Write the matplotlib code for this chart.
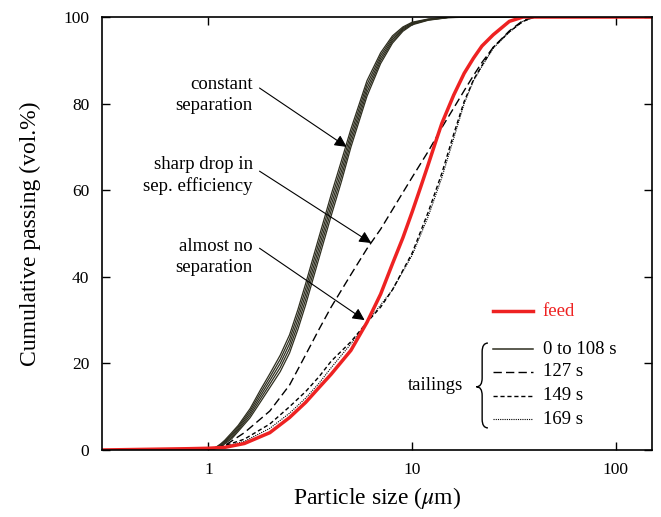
import matplotlib
matplotlib.use("Agg")
import matplotlib.pyplot as plt
from matplotlib.path import Path
from matplotlib.patches import PathPatch

plt.rcParams['font.family'] = ['Liberation Serif', 'DejaVu Serif']
plt.rcParams['mathtext.fontset'] = 'stix'

# Particle sizes (um) for the tailings band, 0 to 108 s
band_x = [0.3, 1.0, 1.05, 1.1, 1.15, 1.2, 1.3, 1.4, 1.6, 1.8, 2.0, 2.25, 2.5,
          2.75, 3.0, 3.5, 4.0, 4.5, 5.0, 6.0, 7.0, 8.0, 9.0, 10, 12, 15, 20, 150]
band_curves = [
    [0, 0.08, 0.3, 0.8, 1.45, 2.22, 4.0, 5.7, 9.55, 13.9, 17.6, 21.9, 26.6,
     32.5, 38.45, 49.45, 58.95, 66.9, 74.1, 85.3, 91.75, 95.65, 97.7, 98.8,
     99.54, 99.95, 100, 100],
    [0, 0.065, 0.25, 0.7, 1.28, 2.01, 3.65, 5.35, 9.03, 13.2, 16.8, 20.95, 25.55,
     31.35, 37.23, 48.23, 57.73, 65.7, 73.05, 84.4, 91.13, 95.23, 97.45, 98.65,
     99.47, 99.93, 100, 100],
    [0, 0.05, 0.2, 0.6, 1.1, 1.8, 3.3, 5.0, 8.5, 12.5, 16, 20, 24.5,
     30.2, 36, 47, 56.5, 64.5, 72, 83.5, 90.5, 94.8, 97.2, 98.5,
     99.4, 99.9, 100, 100],
    [0, 0.035, 0.15, 0.5, 0.93, 1.59, 2.95, 4.65, 7.98, 11.8, 15.2, 19.05, 23.45,
     29.05, 34.78, 45.78, 55.28, 63.3, 70.95, 82.6, 89.88, 94.38, 96.95, 98.35,
     99.33, 99.88, 100, 100],
    [0, 0.02, 0.1, 0.4, 0.75, 1.38, 2.6, 4.3, 7.45, 11.1, 14.4, 18.1, 22.4,
     27.9, 33.55, 44.55, 54.05, 62.1, 69.9, 81.7, 89.25, 93.95, 96.7, 98.2,
     99.26, 99.85, 100, 100],
]

# Feed
feed_x = [0.3, 0.8, 1.0, 1.2, 1.5, 2.0, 2.5, 3.0, 3.5, 4.0, 5.0, 6.0, 7.0, 8.0,
          9.0, 10, 11, 12, 13, 14, 16, 18, 20, 22, 25, 30, 35, 150]
feed_y = [0, 0.3, 0.4, 0.6, 1.5, 4, 7.5, 11, 14.5, 17.5, 23, 29.5, 36, 43,
          49, 55, 60.7, 66, 71, 75.5, 82, 87, 90.5, 93.3, 95.9, 99, 100, 100]

# Tailings at 127 s, 149 s and 169 s
t_x = [0.3, 1.0, 1.2, 1.5, 2.0, 2.5, 3.0, 3.5, 4.0, 5.0, 6.0, 7.0, 8.0, 10,
       12, 14, 16, 18, 20, 22, 25, 30, 35, 40, 150]
t127_y = [0, 0.1, 1.0, 4.0, 9, 15, 22, 28, 33, 40.5, 46.5, 51, 55.5, 63,
          69, 74.5, 79, 83, 86.5, 89.5, 93, 96.8, 99.2, 100, 100]
t149_y = [0, 0.1, 1.0, 2.5, 6, 10, 13.5, 17, 20.5, 25, 29.5, 33, 37, 45.5,
          55, 64, 73, 80.5, 85.5, 88.8, 93, 96.6, 99, 100, 100]
t169_y = [0, 0.1, 0.8, 2.0, 5, 8.5, 12, 15.5, 19, 24.5, 29.5, 33.5, 37, 45,
          54, 63, 72, 80, 85.3, 88.6, 92.8, 96.5, 99, 100, 100]

yticks = [0, 20, 40, 60, 80, 100]
xticks = [1, 10, 100]
xtick_labels = ['1', '10', '100']

fig = plt.figure(figsize=(6.61, 5.17), dpi=100)
ax = fig.add_axes([0.1543, 0.1296, 0.8317, 0.8375])

band_color = '#2e2e1f'
for cy in band_curves:
    ax.plot(band_x, cy, color=band_color, lw=0.9)
ax.plot(t_x, t127_y, color='black', lw=1.0, dashes=(6, 3))
ax.plot(t_x, t149_y, color='black', lw=1.0, dashes=(3, 2))
ax.plot(t_x, t169_y, color='black', lw=0.8, dashes=(1, 1))
ax.plot(feed_x, feed_y, color='#ee2222', lw=2.5)

ax.set_xscale('log')
ax.set_xlim(0.3, 150)
ax.set_ylim(0, 100)
ax.set_xticks(xticks)
ax.set_xticklabels(xtick_labels)
ax.xaxis.set_minor_locator(matplotlib.ticker.NullLocator())
ax.set_yticks(yticks)
ax.tick_params(direction='in', top=True, right=True, length=6, width=1,
               labelsize=12.5, pad=9)
for s in ax.spines.values():
    s.set_linewidth(1.2)

ax.set_xlabel(r'Particle size ($\mu$m)', fontsize=17, labelpad=5)
ax.set_ylabel('Cumulative passing (vol.%)', fontsize=17, labelpad=16)

# Annotations
notes = [
    ('constant\nseparation', (1.65, 82), (1.78, 83.6), (4.77, 70)),
    ('sharp drop in\nsep. efficiency', (1.65, 63.5), (1.78, 64.4), (6.3, 47.8)),
    ('almost no\nseparation', (1.65, 44.5), (1.78, 46.6), (5.84, 30)),
]
for txt, tpos, start, tip in notes:
    ax.text(tpos[0], tpos[1], txt, ha='right', va='center', fontsize=13.5,
            linespacing=1.3)
    ax.annotate('', xy=tip, xytext=start,
                arrowprops=dict(arrowstyle='-|>', lw=0.8, color='black',
                                mutation_scale=18, shrinkA=0, shrinkB=0))

# Legend drawn by hand
lx0, lx1, ltx = 0.711, 0.784, 0.802
ax.plot([lx0, lx1], [0.321, 0.321], transform=ax.transAxes, color='#ee2222', lw=2.5)
ax.text(ltx, 0.321, 'feed', transform=ax.transAxes, color='#ee2222',
        fontsize=13.5, va='center')
entries = [('0 to 108 s', 0.233, dict(color=band_color, lw=1.1)),
           ('127 s', 0.181, dict(color='black', lw=1.0, dashes=(6, 3))),
           ('149 s', 0.125, dict(color='black', lw=1.0, dashes=(3, 2))),
           ('169 s', 0.071, dict(color='black', lw=0.8, dashes=(1, 1)))]
for lab, yy, st in entries:
    ax.plot([lx0, lx1], [yy, yy], transform=ax.transAxes, **st)
    ax.text(ltx, yy, lab, transform=ax.transAxes, fontsize=13.5, va='center')
ax.text(0.657, 0.150, 'tailings', transform=ax.transAxes, ha='right',
        va='center', fontsize=13.5)

# Curly brace
x0, xm, xt = 0.702, 0.6915, 0.681
ytop, ymid, ybot, r = 0.247, 0.146, 0.051, 0.02
verts = [(x0, ytop), (xm, ytop), (xm, ytop - r),
         (xm, ymid + r),
         (xm, ymid), (xt, ymid),
         (xm, ymid), (xm, ymid - r),
         (xm, ybot + r),
         (xm, ybot), (x0, ybot)]
codes = [Path.MOVETO, Path.CURVE3, Path.CURVE3,
         Path.LINETO,
         Path.CURVE3, Path.CURVE3,
         Path.CURVE3, Path.CURVE3,
         Path.LINETO,
         Path.CURVE3, Path.CURVE3]
ax.add_patch(PathPatch(Path(verts, codes), transform=ax.transAxes,
                       fill=False, lw=1.0, color='black'))

fig.savefig('out.png', dpi=100)
